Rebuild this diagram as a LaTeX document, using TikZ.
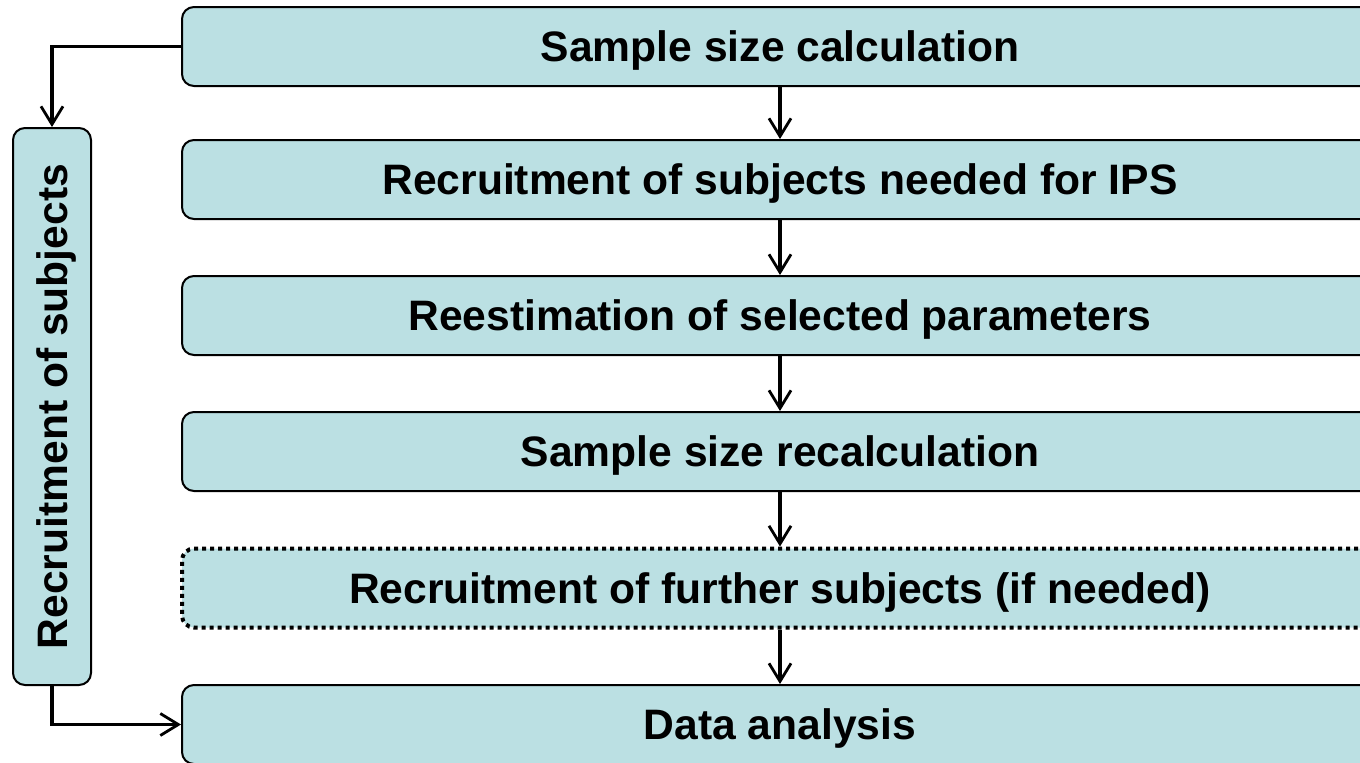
\documentclass[tikz,border=0pt]{standalone}
\usepackage{fontspec}
\setmainfont{Liberation Sans}
\usetikzlibrary{arrows.meta}
\definecolor{boxfill}{RGB}{187,224,227}
\begin{document}
\begin{tikzpicture}[x=0.5pt,y=-0.5pt,
  stepbox/.style={draw=black, line width=1pt, fill=boxfill, rounded corners=6pt,
    minimum width=598pt, minimum height=39.5pt, inner sep=0pt, text depth=0pt,
    font=\fontsize{21.3}{24}\selectfont\bfseries},
  arr/.style={line width=1.6pt, -{Straight Barb[length=9pt,width=11pt,line width=1.4pt]}}]
\useasboundingbox (0,0) rectangle (1360,762);
\clip (0,0) rectangle (1360,762);
\node[stepbox] (b1) at (780,46.5) {Sample size calculation};
\node[stepbox] (b2) at (780,179.5) {Recruitment of subjects needed for IPS};
\node[stepbox] (b3) at (780,315.5) {Reestimation of selected parameters};
\node[stepbox] (b4) at (780,451.5) {Sample size recalculation};
\node[stepbox, line width=2pt, dash pattern=on 2pt off 2pt] (b5) at (780,588) {Recruitment of further subjects (if needed)};
\node[stepbox] (b6) at (780,724.5) {Data analysis};
\node[stepbox, minimum width=278.5pt, minimum height=39pt, rotate=90] (side) at (52,406.5) {Recruitment of subjects};
\draw[arr] (b1.south) -- (b2.north);
\draw[arr] (b2.south) -- (b3.north);
\draw[arr] (b3.south) -- (b4.north);
\draw[arr] (b4.south) -- (b5.north);
\draw[arr] (b5.south) -- (b6.north);
\draw[arr] (b1.west) -| (side.east);
\draw[arr] (side.west) |- (b6.west);
\end{tikzpicture}
\end{document}
